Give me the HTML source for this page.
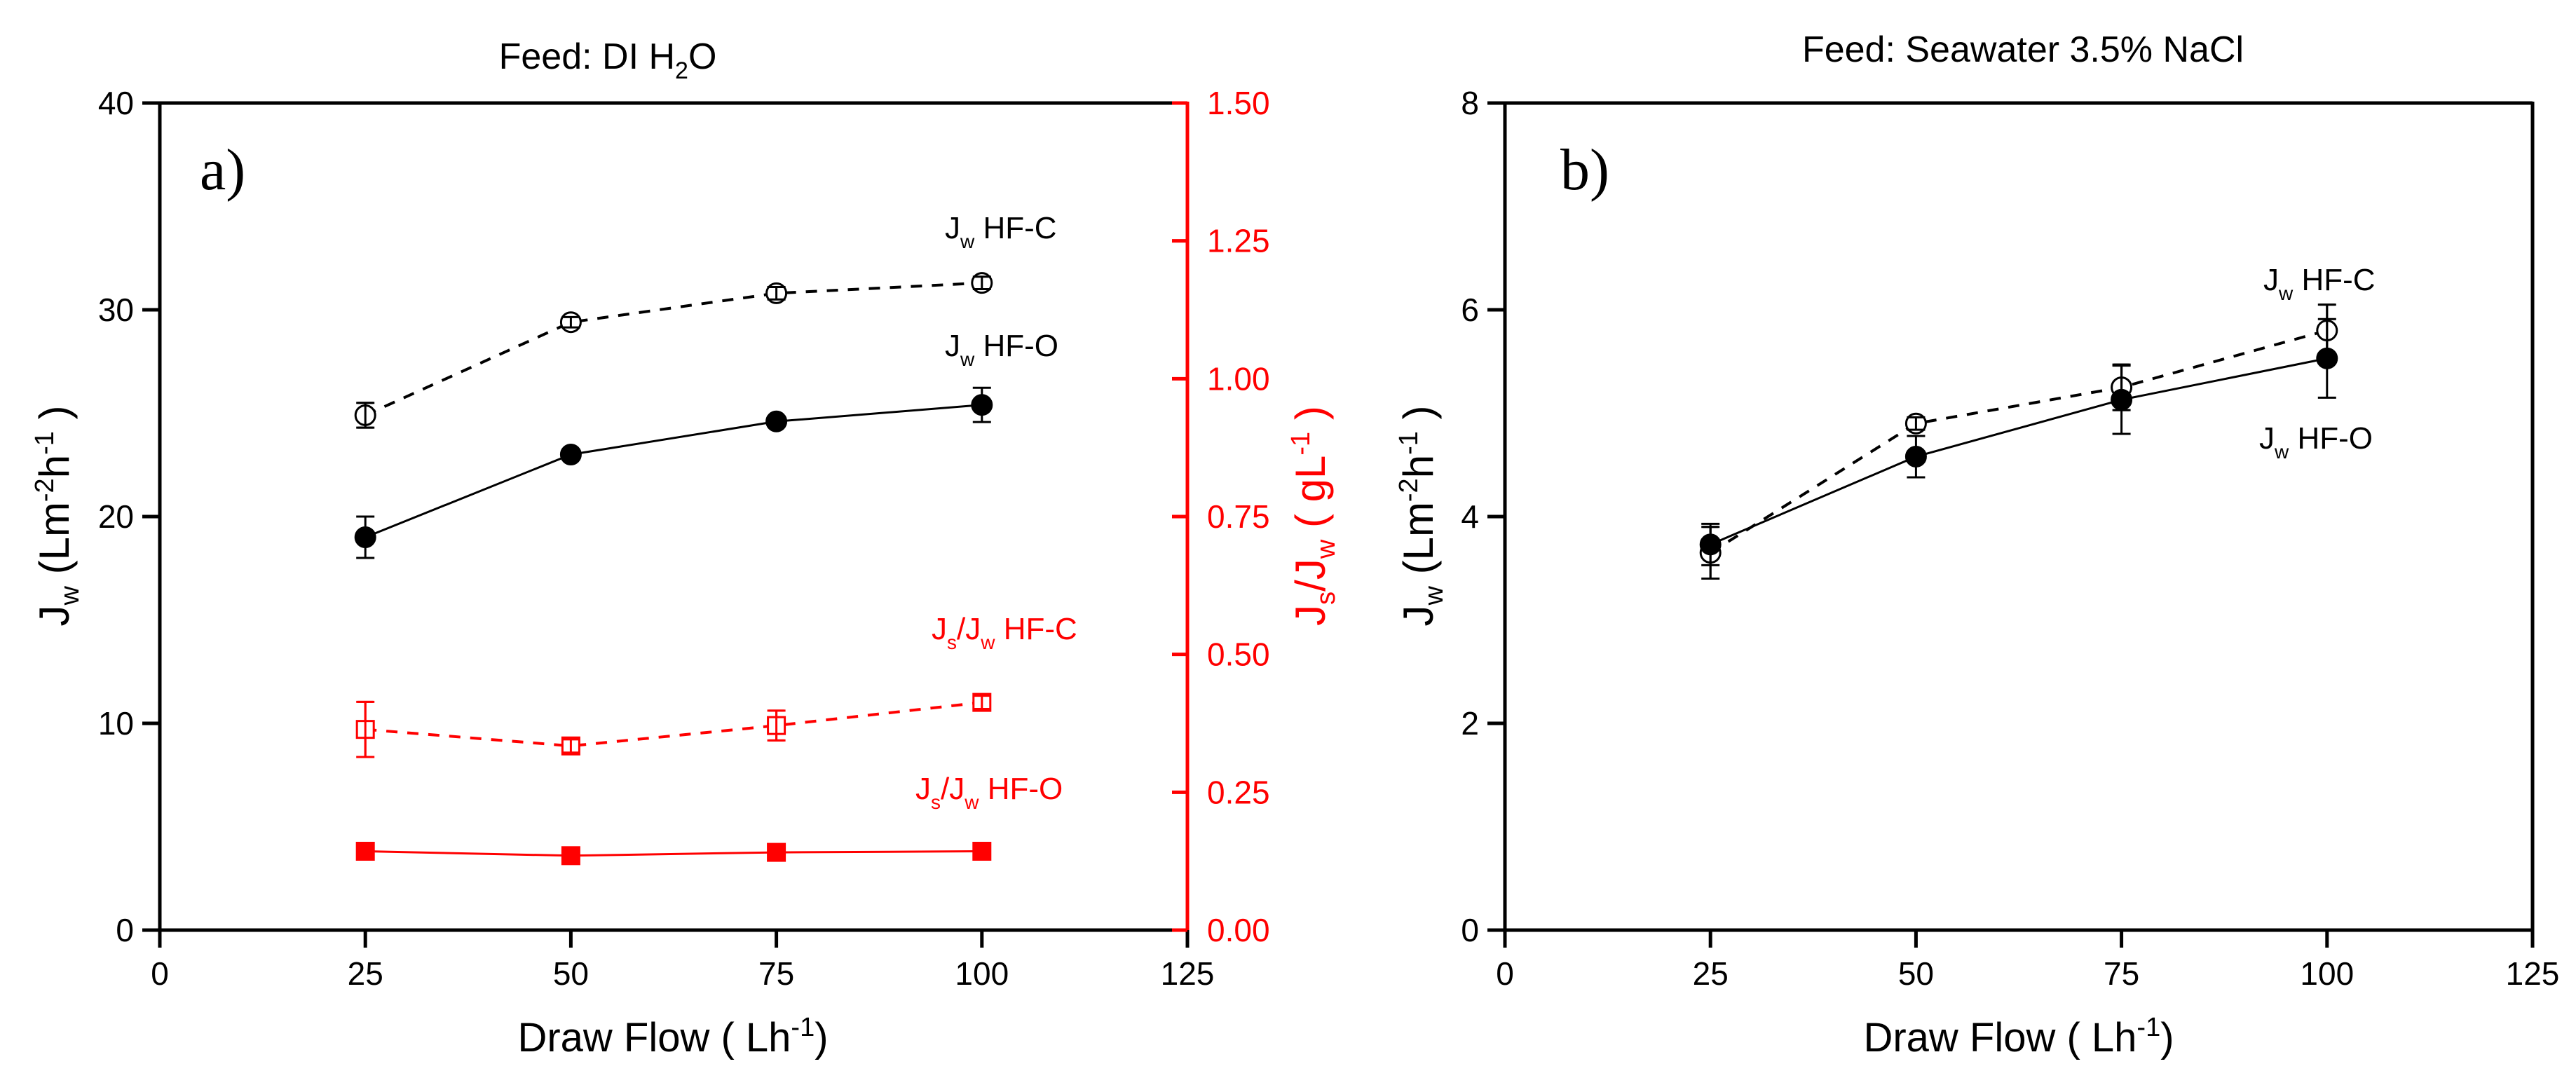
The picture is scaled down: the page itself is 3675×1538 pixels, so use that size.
<!DOCTYPE html>
<html><head><meta charset="utf-8"><style>
html,body{margin:0;padding:0;background:#fff;}
svg{display:block;font-family:"Liberation Sans",Arial,sans-serif;}
</style></head><body>
<svg id="chart" width="3675" height="1538" viewBox="0 0 3675 1538" xmlns="http://www.w3.org/2000/svg">
<rect width="3675" height="1538" fill="#fff"/>
<g id="pa"></g>
<g id="pb"></g>
</svg>
<script>
const xCats = [25, 50, 75, 100];
const xTicks = [0, 25, 50, 75, 100, 125];
const aLeftTicks = [0, 10, 20, 30, 40];
const aRightTicks = ["0.00","0.25","0.50","0.75","1.00","1.25","1.50"];
const bTicks = [0, 2, 4, 6, 8];
// panel a, left axis (Jw)
const aJwC = [24.9, 29.4, 30.8, 31.3];
const aJwCErr = [0.6, 0.25, 0.3, 0.3];
const aJwO = [19.0, 23.0, 24.6, 25.4];
const aJwOErr = [1.0, 0.2, 0.2, 0.83];
// panel a, right axis (Js/Jw)
const aJsC = [0.364, 0.334, 0.371, 0.413];
const aJsCErr = [0.05, 0.012, 0.027, 0.012];
const aJsO = [0.143, 0.135, 0.141, 0.143];
const aJsOErr = [0.01, 0.006, 0.01, 0.012];
// panel b
const bJwC = [3.65, 4.9, 5.25, 5.8];
const bJwCErr = [0.25, 0.06, 0.22, 0.25];
const bJwO = [3.73, 4.58, 5.13, 5.53];
const bJwOErr = [0.2, 0.2, 0.33, 0.38];

const NS = "http://www.w3.org/2000/svg";
function mk(parent, tag, attrs, text){
  const e = document.createElementNS(NS, tag);
  for (const k in attrs) e.setAttribute(k, attrs[k]);
  if (text !== undefined) e.textContent = text;
  parent.appendChild(e);
  return e;
}
const TOP = 147, BOT = 1327;

function panel(g, x0, x1, yMax, opts){
  const sx = v => x0 + (v/125)*(x1-x0);
  const sy = v => BOT - (v/yMax)*(BOT-TOP);
  let e;
  e = mk(g,'line',{x1:x0,y1:TOP,x2:x1,y2:TOP,stroke:'#000','stroke-width':5});
   
  e = mk(g,'line',{x1:x0,y1:BOT,x2:x1,y2:BOT,stroke:'#000','stroke-width':5});
   
  e = mk(g,'line',{x1:x0,y1:TOP-2,x2:x0,y2:BOT+2,stroke:'#000','stroke-width':5});
   
  e = mk(g,'line',{x1:x1,y1:TOP-2,x2:x1,y2:BOT+2,stroke:opts.rightColor,'stroke-width':5});
   
  xTicks.forEach(t=>{
    const x = sx(t);
    e = mk(g,'line',{x1:x,y1:BOT,x2:x,y2:BOT+25,stroke:'#000','stroke-width':5});
     
    e = mk(g,'text',{x:x,y:1405,'font-size':46,'text-anchor':'middle'},String(t));
     
  });
  opts.leftTicks.forEach(t=>{
    const y = sy(t);
    e = mk(g,'line',{x1:x0-25,y1:y,x2:x0,y2:y,stroke:'#000','stroke-width':5});
     
    e = mk(g,'text',{x:x0-37,y:y+16,'font-size':46,'text-anchor':'end'},String(t));
     
  });
  return {sx, sy};
}

function series(g, sx, sy, vals, errs, color, dashed, filled, shape, name){
  const pts = vals.map((v,i)=>sx(xCats[i])+','+sy(v)).join(' ');
  let e = mk(g,'polyline',{points:pts,fill:'none',stroke:color,'stroke-width':dashed?4:3,'stroke-dasharray':dashed?'16 14':'none'});
   
  vals.forEach((v,i)=>{
    const x = sx(xCats[i]), y = sy(v), yl = sy(v-errs[i]), yh = sy(v+errs[i]);
    e = mk(g,'path',{d:`M${x},${yl}V${yh}M${x-13},${yl}H${x+13}M${x-13},${yh}H${x+13}`,stroke:color,'stroke-width':3,fill:'none'});
     
    if (shape==='circle'){
      e = mk(g,'circle',{cx:x,cy:y,r:14,fill:filled?color:'#fff',stroke:color,'stroke-width':3});
    } else {
      e = mk(g,'rect',{x:x-12,y:y-12,width:24,height:24,fill:filled?color:'#fff',stroke:color,'stroke-width':3});
    }
     
    if (!filled){
      e = mk(g,'path',{d:`M${x},${yl}V${yh}M${x-11},${yl}H${x+11}M${x-11},${yh}H${x+11}`,stroke:color,'stroke-width':3,fill:'none'});
       
    }
  });
}

function label(g, x, y, parts, color, name){
  const t = mk(g,'text',{x:x,y:y,'font-size':44,fill:color});
   
  parts.forEach(p=>{
    const s = mk(t,'tspan',{});
    if (p[1]==='sub'){ s.setAttribute('font-size',28); s.setAttribute('dy',14); }
    else if (p[1]==='back'){ s.setAttribute('dy',-14); }
    s.textContent = p[0];
  });
}

// Panel A
const ga = document.getElementById('pa');
const A = panel(ga, 228, 1694, 40, {leftTicks:aLeftTicks, rightColor:'#ff0000'});
const syR = v => BOT - (v/1.5)*(BOT-TOP);
aRightTicks.forEach((t,i)=>{
  const y = syR(parseFloat(t));
  let e = mk(ga,'line',{x1:1672,y1:y,x2:1694,y2:y,stroke:'#ff0000','stroke-width':5});
   
  e = mk(ga,'text',{x:1722,y:y+16,'font-size':46,fill:'#ff0000'},t);
   
});
series(ga, A.sx, A.sy, aJwC, aJwCErr, '#000', true, false, 'circle', 'a-jw-hf-c');
series(ga, A.sx, A.sy, aJwO, aJwOErr, '#000', false, true, 'circle', 'a-jw-hf-o');
series(ga, A.sx, syR, aJsC, aJsCErr, '#ff0000', true, false, 'square', 'a-jsjw-hf-c');
series(ga, A.sx, syR, aJsO, aJsOErr, '#ff0000', false, true, 'square', 'a-jsjw-hf-o');
label(ga, 1348, 340, [['J'],['w','sub'],[' HF-C','back']], '#000', 'label-jw-hf-c');
label(ga, 1348, 508, [['J'],['w','sub'],[' HF-O','back']], '#000', 'label-jw-hf-o');
label(ga, 1329, 912, [['J'],['s','sub'],['/J','back'],['w','sub'],[' HF-C','back']], '#ff0000', 'label-jsjw-hf-c');
label(ga, 1306, 1140, [['J'],['s','sub'],['/J','back'],['w','sub'],[' HF-O','back']], '#ff0000', 'label-jsjw-hf-o');
let t;
t = mk(ga,'text',{x:867,y:98,'font-size':52,'text-anchor':'middle'});
 
t.innerHTML = 'Feed: DI H<tspan font-size="34" dy="14">2</tspan><tspan dy="-14">O</tspan>';
t = mk(ga,'text',{x:285,y:270,'font-size':84,'font-family':'Liberation Serif, serif'},'a)');
 
t = mk(ga,'text',{x:0,y:0,'font-size':60,'text-anchor':'middle',transform:'translate(98,736) rotate(-90)'});
 
t.innerHTML = 'J<tspan font-size="38" dy="14">w</tspan><tspan dy="-14"> (Lm</tspan><tspan font-size="38" dy="-22">-2</tspan><tspan dy="22">h</tspan><tspan font-size="38" dy="-22">-1</tspan><tspan dy="22"> )</tspan>';
t = mk(ga,'text',{x:0,y:0,'font-size':60,'text-anchor':'middle',fill:'#ff0000',transform:'translate(1890,736) rotate(-90)'});
 
t.innerHTML = 'J<tspan font-size="38" dy="14">s</tspan><tspan dy="-14">/J</tspan><tspan font-size="38" dy="14">w</tspan><tspan dy="-14"> ( gL</tspan><tspan font-size="38" dy="-22">-1</tspan><tspan dy="22"> )</tspan>';
t = mk(ga,'text',{x:960,y:1500,'font-size':58,'text-anchor':'middle'});
 
t.innerHTML = 'Draw Flow ( Lh<tspan font-size="38" dy="-22">-1</tspan><tspan dy="22">)</tspan>';

// Panel B
const gb = document.getElementById('pb');
const B = panel(gb, 2147, 3613, 8, {leftTicks:bTicks, rightColor:'#000'});
series(gb, B.sx, B.sy, bJwC, bJwCErr, '#000', true, false, 'circle', 'b-jw-hf-c');
series(gb, B.sx, B.sy, bJwO, bJwOErr, '#000', false, true, 'circle', 'b-jw-hf-o');
label(gb, 3229, 414, [['J'],['w','sub'],[' HF-C','back']], '#000', 'label-b-jw-hf-c');
label(gb, 3223, 640, [['J'],['w','sub'],[' HF-O','back']], '#000', 'label-b-jw-hf-o');
t = mk(gb,'text',{x:2886,y:88,'font-size':52,'text-anchor':'middle'},'Feed: Seawater 3.5% NaCl');
 
t = mk(gb,'text',{x:2226,y:270,'font-size':84,'font-family':'Liberation Serif, serif'},'b)');
 
t = mk(gb,'text',{x:0,y:0,'font-size':60,'text-anchor':'middle',transform:'translate(2044,736) rotate(-90)'});
 
t.innerHTML = 'J<tspan font-size="38" dy="14">w</tspan><tspan dy="-14"> (Lm</tspan><tspan font-size="38" dy="-22">-2</tspan><tspan dy="22">h</tspan><tspan font-size="38" dy="-22">-1</tspan><tspan dy="22"> )</tspan>';
t = mk(gb,'text',{x:2880,y:1500,'font-size':58,'text-anchor':'middle'});
 
t.innerHTML = 'Draw Flow ( Lh<tspan font-size="38" dy="-22">-1</tspan><tspan dy="22">)</tspan>';
</script>
</body></html>
